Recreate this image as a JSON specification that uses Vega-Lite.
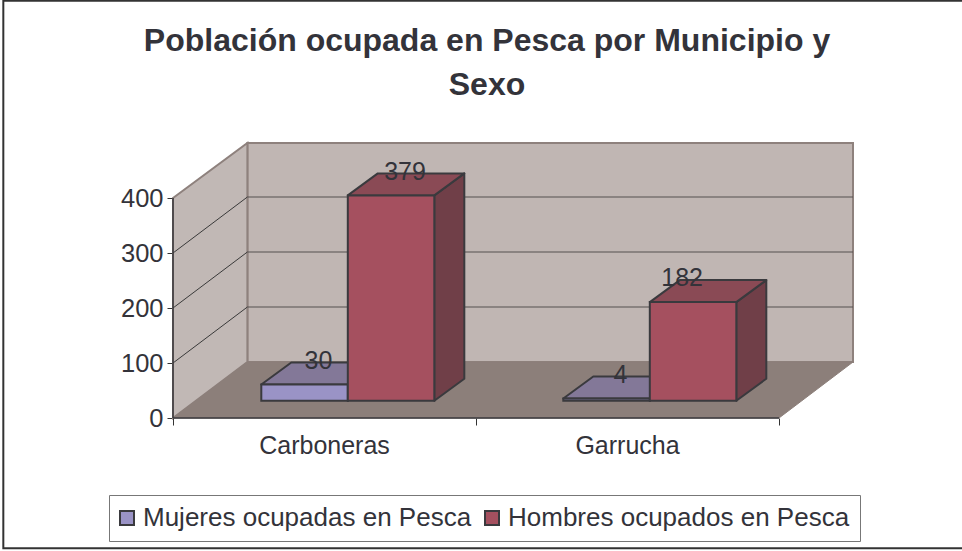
{
"$schema":"https://vega.github.io/schema/vega-lite/v6.json",
"width":680,"height":275,
"autosize":{"type":"none"},
"padding":{"left":173,"top":143,"right":109,"bottom":133},
"background":"white",
"config":{"view":{"stroke":null},"font":"Liberation Sans"},
"title":{"text":["Población ocupada en Pesca por Municipio y","Sexo"],"font":"Liberation Sans","fontSize":32,"fontWeight":"bold","color":"#33333a","anchor":"middle","frame":"group","dx":-26,"offset":-102,"lineHeight":44},
"datasets":{
"barras":[
{"municipio":"Carboneras","sexo":"Mujeres ocupadas en Pesca","valor":30},
{"municipio":"Carboneras","sexo":"Hombres ocupados en Pesca","valor":379},
{"municipio":"Garrucha","sexo":"Mujeres ocupadas en Pesca","valor":4},
{"municipio":"Garrucha","sexo":"Hombres ocupados en Pesca","valor":182}],
"marco":[{"x0":-0.56,"x1":2.614,"y0":-237,"y1":758.7}],
"fondo":[{"x0":0.2455,"x1":2.2442,"y0":101.8,"y1":500}],
"pared":[{"x":0,"y0":0,"y1":400},{"x":0.2455,"y0":101.8,"y1":500}],
"suelo":[{"x":0,"y0":0,"y1":0},{"x":0.2455,"y0":0,"y1":101.8},{"x":2,"y0":0,"y1":101.8},{"x":2.2442,"y0":101.8,"y1":101.8}],
"rejilla":[{"valor":100},{"valor":200},{"valor":300}],
"ejes":[{"x0":0,"x1":0,"y0":0,"y1":400},{"x0":0,"x1":2,"y0":0,"y1":0}],
"categorias":[{"municipio":"Carboneras","pos":0.5},{"municipio":"Garrucha","pos":1.5}]
},
"layer":[
{"data":{"name":"marco"},"mark":{"type":"rect","fill":"transparent","stroke":"#333333","strokeWidth":2},
 "encoding":{"x":{"field":"x0","type":"quantitative","scale":{"domain":[0,2.2442],"nice":false,"zero":false},
   "axis":{"values":[0,1,2],"labels":false,"title":null,"domain":false,"grid":false,"tickSize":7,"tickColor":"#333333"}},
  "x2":{"field":"x1"},
  "y":{"field":"y0","type":"quantitative","scale":{"domain":[0,500],"nice":false,"zero":false},
   "axis":{"values":[0,100,200,300,400],"title":null,"domain":false,"grid":false,"tickSize":6,"tickColor":"#333333","labelFontSize":25.5,"labelColor":"#33333a","labelPadding":4,"labelFont":"Liberation Sans"}},
  "y2":{"field":"y1"}}},
{"data":{"name":"fondo"},"mark":{"type":"rect","fill":"#c0b6b3","stroke":"#8e817d","strokeWidth":2},
 "encoding":{"x":{"field":"x0","type":"quantitative"},"x2":{"field":"x1"},"y":{"field":"y0","type":"quantitative"},"y2":{"field":"y1"}}},
{"data":{"name":"pared"},"mark":{"type":"area","fill":"#c1b8b5","stroke":"#8e817d","strokeWidth":2},
 "encoding":{"x":{"field":"x","type":"quantitative"},"y":{"field":"y1","type":"quantitative"},"y2":{"field":"y0"}}},
{"data":{"name":"suelo"},"mark":{"type":"area","fill":"#8c7f7a","stroke":"#8c7f7a","strokeWidth":1},
 "encoding":{"x":{"field":"x","type":"quantitative"},"y":{"field":"y1","type":"quantitative"},"y2":{"field":"y0"}}},
{"data":{"name":"rejilla"},"transform":[{"calculate":"datum.valor+101.8","as":"atras"},{"calculate":"0.2455","as":"xa"},{"calculate":"2.2442","as":"xb"},{"calculate":"0","as":"xc"}],
 "layer":[
 {"mark":{"type":"rule","color":"#555050","strokeWidth":1.2},
  "encoding":{"x":{"field":"xa","type":"quantitative"},"x2":{"field":"xb"},"y":{"field":"atras","type":"quantitative"}}},
 {"mark":{"type":"rule","color":"#3a3a3a","strokeWidth":1},
  "encoding":{"x":{"field":"xc","type":"quantitative"},"x2":{"field":"xa"},"y":{"field":"valor","type":"quantitative"},"y2":{"field":"atras"}}}
 ]},
{"data":{"name":"ejes"},"mark":{"type":"rule","color":"#3a3a3e","strokeWidth":1.5},
 "encoding":{"x":{"field":"x0","type":"quantitative"},"x2":{"field":"x1"},"y":{"field":"y0","type":"quantitative"},"y2":{"field":"y1"}}},
{"data":{"name":"barras"},
 "transform":[
  {"calculate":"datum.municipio=='Carboneras'?0:0.9967","as":"i"},
  {"calculate":"datum.sexo=='Mujeres ocupadas en Pesca'?0:1","as":"s"},
  {"calculate":"datum.i+0.2914+datum.s*0.2855","as":"izq"},
  {"calculate":"datum.izq+0.2855","as":"der"},
  {"calculate":"31.45","as":"base"},
  {"calculate":"datum.base+datum.valor*0.985","as":"cima"}],
 "layer":[
 {"transform":[{"calculate":"[0,1]","as":"t"},{"flatten":["t"]},
   {"calculate":"datum.der+datum.t*0.099","as":"px"},
   {"calculate":"datum.cima+datum.t*40","as":"py"},
   {"calculate":"datum.base+datum.t*40","as":"py2"}],
  "mark":{"type":"area","stroke":"#3a3a3e","strokeWidth":2,"strokeJoin":"round"},
  "encoding":{"x":{"field":"px","type":"quantitative"},"y":{"field":"py","type":"quantitative"},"y2":{"field":"py2"},
   "detail":[{"field":"municipio"},{"field":"sexo"}],
   "fill":{"condition":{"test":"datum.s==0","value":"#6d678c"},"value":"#703f48"}}},
 {"transform":[{"calculate":"[0,1,2,3]","as":"t"},{"flatten":["t"]},
   {"calculate":"datum.t==0?datum.izq:datum.t==1?datum.izq+0.099:datum.t==2?datum.der:datum.der+0.099","as":"px"},
   {"calculate":"datum.t==0?datum.cima:datum.cima+40","as":"py"},
   {"calculate":"datum.t==3?datum.cima+40:datum.cima","as":"py2"}],
  "mark":{"type":"area","stroke":"#3a3a3e","strokeWidth":2,"strokeJoin":"round"},
  "encoding":{"x":{"field":"px","type":"quantitative"},"y":{"field":"py","type":"quantitative"},"y2":{"field":"py2"},
   "detail":[{"field":"municipio"},{"field":"sexo"}],
   "fill":{"condition":{"test":"datum.s==0","value":"#837898"},"value":"#8a4a55"}}},
 {"mark":{"type":"rect","stroke":"#3a3a3e","strokeWidth":2},
  "encoding":{"x":{"field":"izq","type":"quantitative"},"x2":{"field":"der"},"y":{"field":"cima","type":"quantitative"},"y2":{"field":"base"},
   "fill":{"field":"sexo","type":"nominal","scale":{"domain":["Mujeres ocupadas en Pesca","Hombres ocupados en Pesca"],"range":["#9a93c6","#a5505f"]},
    "legend":{"title":null,"orient":"none","legendX":-64,"legendY":352,"direction":"horizontal","columns":2,"columnPadding":9,"symbolType":"square","symbolSize":196,"symbolOffset":-5,"symbolStrokeColor":"#3a3a3e","symbolStrokeWidth":2,"labelFontSize":26,"labelColor":"#33333a","labelFont":"Liberation Sans","labelLimit":500,"labelOffset":3,"fillColor":"white","strokeColor":"#777777","padding":10}}}},
 {"transform":[{"calculate":"(datum.izq+datum.der)/2+(datum.valor==182?-0.036:0.046)","as":"lx"},{"calculate":"datum.cima+43","as":"ly"}],
  "mark":{"type":"text","fontSize":25,"color":"#33333a","font":"Liberation Sans","align":"center","baseline":"middle"},
  "encoding":{"x":{"field":"lx","type":"quantitative"},"y":{"field":"ly","type":"quantitative"},"text":{"field":"valor","type":"quantitative"}}}
 ]},
{"data":{"name":"categorias"},"transform":[{"calculate":"0","as":"cero"}],
 "mark":{"type":"text","fontSize":25,"color":"#33333a","font":"Liberation Sans","align":"center","baseline":"middle","dy":28},
 "encoding":{"x":{"field":"pos","type":"quantitative"},"y":{"field":"cero","type":"quantitative"},"text":{"field":"municipio","type":"nominal"}}}
]
}
